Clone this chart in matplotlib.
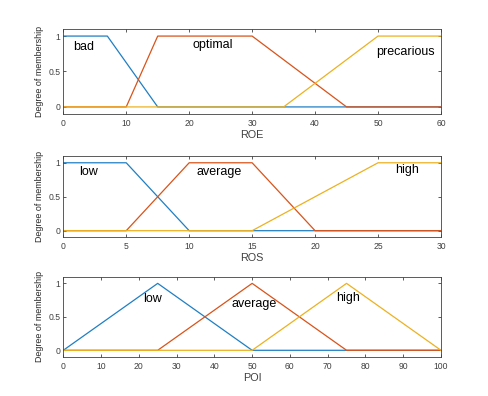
import matplotlib
matplotlib.use("Agg")
import matplotlib.pyplot as plt

plt.rcParams['font.family'] = ['Liberation Sans', 'DejaVu Sans']

# ROE
roe_bad_x = [0, 7, 15, 60]
roe_bad_y = [1, 1, 0, 0]
roe_opt_x = [0, 10, 15, 30, 45, 60]
roe_opt_y = [0, 0, 1, 1, 0, 0]
roe_pre_x = [0, 35, 50, 60]
roe_pre_y = [0, 0, 1, 1]
# ROS
ros_low_x = [0, 5, 10, 30]
ros_low_y = [1, 1, 0, 0]
ros_avg_x = [0, 5, 10, 15, 20, 30]
ros_avg_y = [0, 0, 1, 1, 0, 0]
ros_high_x = [0, 15, 25, 30]
ros_high_y = [0, 0, 1, 1]
# POI
poi_low_x = [0, 25, 50, 100]
poi_low_y = [0, 1, 0, 0]
poi_avg_x = [0, 25, 50, 75, 100]
poi_avg_y = [0, 0, 1, 0, 0]
poi_high_x = [0, 50, 75, 100]
poi_high_y = [0, 0, 1, 0]

roe_ticks = [0, 10, 20, 30, 40, 50, 60]
ros_ticks = [0, 5, 10, 15, 20, 25, 30]
poi_ticks = [0, 10, 20, 30, 40, 50, 60, 70, 80, 90, 100]

c_blue = '#1f7fc4'
c_orange = '#D95319'
c_yellow = '#EDB120'
gray = '#404040'

fig = plt.figure(figsize=(4.89, 3.96), dpi=100)

panels = [
    dict(pos=[0.1294, 0.7121, 0.7724, 0.2147], xlabel='ROE', xlim=(0, 60), ticks=roe_ticks,
         lines=[(roe_bad_x, roe_bad_y, c_blue), (roe_opt_x, roe_opt_y, c_orange), (roe_pre_x, roe_pre_y, c_yellow)],
         labels=[(3.3, 0.84, 'bad'), (23.8, 0.87, 'optimal'), (54.4, 0.77, 'precarious')]),
    dict(pos=[0.1294, 0.4003, 0.7724, 0.2058], xlabel='ROS', xlim=(0, 30), ticks=ros_ticks,
         lines=[(ros_low_x, ros_low_y, c_blue), (ros_avg_x, ros_avg_y, c_orange), (ros_high_x, ros_high_y, c_yellow)],
         labels=[(2.0, 0.87, 'low'), (12.4, 0.87, 'average'), (27.3, 0.89, 'high')]),
    dict(pos=[0.1294, 0.0985, 0.7724, 0.2028], xlabel='POI', xlim=(0, 100), ticks=poi_ticks,
         lines=[(poi_low_x, poi_low_y, c_blue), (poi_avg_x, poi_avg_y, c_orange), (poi_high_x, poi_high_y, c_yellow)],
         labels=[(23.7, 0.76, 'low'), (50.4, 0.69, 'average'), (75.4, 0.785, 'high')]),
]

for p in panels:
    ax = fig.add_axes(p['pos'])
    for x, y, c in p['lines']:
        ax.plot(x, y, color=c, lw=0.9)
    for tx, ty, s in p['labels']:
        ax.text(tx, ty, s, ha='center', va='center', fontsize=9, color='black')
    ax.set_xlim(*p['xlim'])
    ax.set_ylim(-0.1, 1.1)
    ax.set_xticks(p['ticks'])
    ax.set_yticks([0, 0.5, 1])
    ax.set_yticklabels(['0', '0.5', '1'])
    ax.tick_params(direction='in', length=2.5, width=0.6, colors=gray, labelsize=6.2,
                   top=True, right=True)
    ax.tick_params(axis='x', pad=3.5)
    ax.tick_params(axis='y', pad=2)
    for s in ax.spines.values():
        s.set_color(gray)
        s.set_linewidth(0.6)
    ax.set_xlabel(p['xlabel'], fontsize=7.8, color=gray, labelpad=1.5)
    ax.set_ylabel('Degree of membership', fontsize=6.4, color='#262626', labelpad=3)

fig.savefig('out.png', dpi=100)
